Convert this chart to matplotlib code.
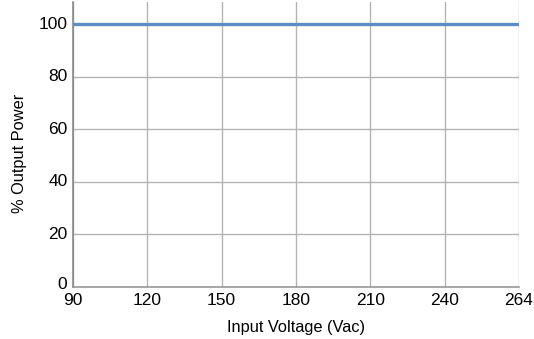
import matplotlib
matplotlib.use("Agg")
import matplotlib.pyplot as plt
import matplotlib.transforms as mtransforms

plt.rcParams["font.family"] = ["Liberation Sans", "DejaVu Sans"]

# 輸入電壓（等距刻度）與輸出功率百分比
voltages = ["90", "120", "150", "180", "210", "240", "264"]
output_pct = [100, 100, 100, 100, 100, 100, 100]
y_ticks = [0, 20, 40, 60, 80, 100]

fig = plt.figure(figsize=(5.34, 3.39), dpi=100)
ax = fig.add_axes([73 / 534, 1 - 287 / 339, 446 / 534, 285 / 339])

pos = list(range(len(voltages)))
ax.plot(pos, output_pct, color="#5b8ec6", linewidth=2.4, zorder=3)

ax.set_xlim(0, len(voltages) - 1)
ax.set_ylim(0, 108.5)
ax.set_xticks(pos)
ax.set_xticklabels(voltages)
ax.set_yticks(y_ticks)

ax.grid(True, color="#b4b4b4", linewidth=1.0)
ax.set_axisbelow(True)
for s in ("top", "right"):
    ax.spines[s].set_visible(False)
ax.spines["left"].set_color("#808080")
ax.spines["bottom"].set_color("#909090")
ax.spines["left"].set_linewidth(1.1)
ax.spines["bottom"].set_linewidth(1.1)

ax.tick_params(length=0, labelsize=12.5, colors="#000000")
ax.tick_params(axis="x", pad=4)
ax.tick_params(axis="y", pad=4)

# y 刻度字略往上移，0 再多移一些，避免和 90 重疊
for lab in ax.get_yticklabels():
    dy = 4 if lab.get_text() == "0" else 1.5
    lab.set_transform(lab.get_transform() +
                      mtransforms.ScaledTranslation(0, dy / 100, fig.dpi_scale_trans))

ax.set_xlabel("Input Voltage (Vac)", fontsize=11.8, labelpad=9)
ax.set_ylabel("% Output Power", fontsize=11.8)
ax.yaxis.set_label_coords(-0.103, 0.468)

fig.savefig("out.png", dpi=100)
